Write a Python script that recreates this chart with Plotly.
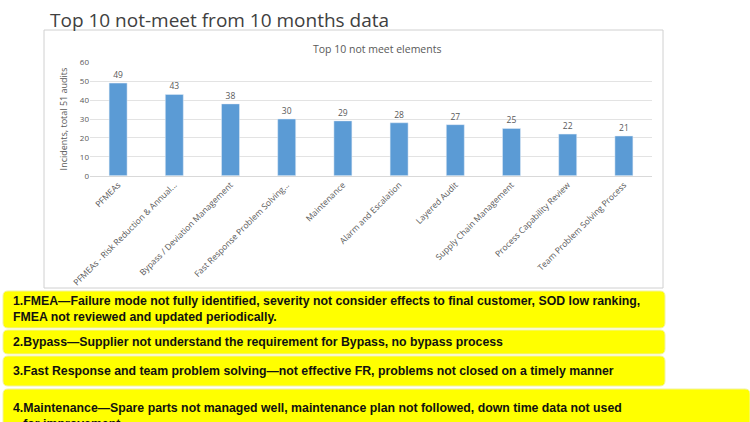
import plotly.graph_objects as go

categories = ["PFMEAs", "PFMEAs - Risk Reduction & Annual...", "Bypass / Deviation Management",
              "Fast Response Problem Solving...", "Maintenance", "Alarm and Escalation",
              "Layered Audit", "Supply Chain Management", "Process Capability Review",
              "Team Problem Solving Process"]
values = [49, 43, 38, 30, 29, 28, 27, 25, 22, 21]
y_ticks = [0, 10, 20, 30, 40, 50, 60]

notes = [
    "1.FMEA\u2014Failure mode not fully identified, severity not consider effects to final customer, SOD low ranking,<br>FMEA not reviewed and updated periodically.",
    "2.Bypass\u2014Supplier not understand the requirement for Bypass, no bypass process",
    "3.Fast Response and team problem solving\u2014not effective FR, problems not closed on a timely manner",
    "4.Maintenance\u2014Spare parts not managed well, maintenance plan not followed, down time data not used<br>   for improvement",
]

W, H = 750, 422
def px(x):
    return x / W
def py(y):
    return 1 - y / H

def rounded(x0, y0, x1, y1, r=5):
    def P(x, y):
        return f"{px(x):.5f},{py(y):.5f}"
    path = (f"M {P(x0 + r, y0)} L {P(x1 - r, y0)} Q {P(x1, y0)} {P(x1, y0 + r)} "
            f"L {P(x1, y1 - r)} Q {P(x1, y1)} {P(x1 - r, y1)} "
            f"L {P(x0 + r, y1)} Q {P(x0, y1)} {P(x0, y1 - r)} "
            f"L {P(x0, y0 + r)} Q {P(x0, y0)} {P(x0 + r, y0)} Z")
    return path

fig = go.Figure()
fig.add_trace(go.Bar(
    x=categories, y=values, marker_color="#5B9BD5",
    text=values, textposition="outside", cliponaxis=False,
    textfont=dict(size=8.5, color="#595959", family="Open Sans"),
))

shapes = []
shapes.append(dict(type="rect", xref="paper", yref="paper",
                   x0=px(44), x1=px(663), y0=py(288), y1=py(30),
                   line=dict(color="#d0d0d0", width=1), fillcolor="rgba(0,0,0,0)", layer="below"))
boxes = [(3, 291, 665, 328), (3, 330, 665, 354), (3, 356, 665, 386), (3, 389, 750, 430)]
for (x0, y0, x1, y1) in boxes:
    shapes.append(dict(type="path", xref="paper", yref="paper", path=rounded(x0, y0, x1, y1),
                       fillcolor="#FFFF00", line=dict(color="#F2F2A0", width=1), layer="below"))

annotations = [
    dict(text="Top 10 not-meet from 10 months data", xref="paper", yref="paper",
         x=px(48), y=py(5), xanchor="left", yanchor="top", showarrow=False,
         font=dict(size=19, color="#404040", family="Open Sans")),
    dict(text="Top 10 not meet elements", xref="paper", yref="paper",
         x=px(377), y=py(49), xanchor="center", yanchor="middle", showarrow=False,
         font=dict(size=10.5, color="#595959", family="Open Sans")),
]
text_y = [309, 342, 371, 407]
for t, yc in zip(notes, text_y):
    annotations.append(dict(text="<b>" + t + "</b>", xref="paper", yref="paper",
                            x=px(11), y=py(yc), xanchor="left", yanchor="middle", align="left",
                            showarrow=False,
                            font=dict(size=12.3, color="#111111", family="Liberation Sans")))
annotations[-1]["y"] = py(399)
annotations[-1]["yanchor"] = "top"

fig.update_layout(
    width=W, height=H, margin=dict(l=0, r=0, t=0, b=0, autoexpand=False),
    paper_bgcolor="white", plot_bgcolor="white",
    showlegend=False, bargap=0.68,
    shapes=shapes, annotations=annotations,
    xaxis=dict(domain=[px(90), px(652)], tickangle=-45, automargin=False,
               tickfont=dict(size=8.5, color="#595959", family="Open Sans"),
               showline=True, linecolor="#d9d9d9", ticks=""),
    yaxis=dict(domain=[py(175.7), py(62.3)], range=[0, 60], tickvals=y_ticks, automargin=False,
               gridcolor="#e3e3e3", zeroline=False, ticks="",
               tickfont=dict(size=8, color="#595959", family="Open Sans"),
               title=dict(text="Incidents, total 51 audits", standoff=10,
                          font=dict(size=9, color="#595959", family="Open Sans"))),
)
fig.write_html("out.html", config={"displayModeBar": False},
               post_script="document.body.style.margin='0';document.body.style.padding='0';document.body.style.overflow='hidden';")
